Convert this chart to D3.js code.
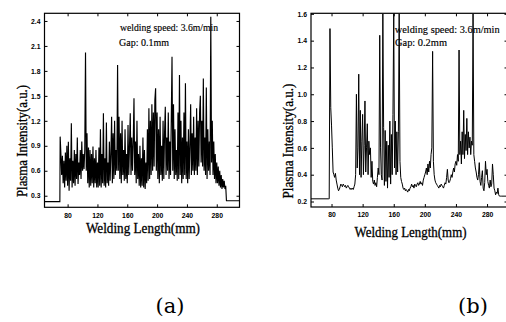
<!DOCTYPE html>
<html><head><meta charset="utf-8">
<script src="https://cdn.jsdelivr.net/npm/d3@7"></script>
<style>body{margin:0;background:#fff}svg{display:block}</style>
</head><body>
<svg id="c" width="506" height="322"></svg>
<script>
// ---------- data ----------
const lengthTicks = [80, 120, 160, 200, 240, 280];
const intensityTicksA = [0.3, 0.6, 0.9, 1.2, 1.5, 1.8, 2.1, 2.4];
const intensityTicksB = [0.2, 0.4, 0.6, 0.8, 1.0, 1.2, 1.4, 1.6];

// (a) gap 0.1 mm : samples every 1 mm from 70 mm
const startA = 70;
const intensityA = [
 1.01,0.80,0.55,0.78,0.45,0.72,0.40,0.82,0.48,0.90,
 0.42,0.95,0.36,0.75,0.48,1.17,0.40,0.72,0.45,0.85,
 0.42,0.80,0.50,1.00,0.44,0.70,0.55,0.85,0.50,0.95,
 0.60,0.80,0.62,0.85,2.02,0.60,1.05,0.45,0.88,0.40,
 0.85,0.42,0.80,0.45,0.89,0.40,0.75,0.45,0.85,0.40,
 0.70,0.40,0.88,0.42,1.10,0.40,0.80,0.45,1.29,0.42,
 0.75,0.40,1.18,0.45,0.70,0.42,0.95,0.48,0.80,1.25,
 0.45,1.05,0.50,1.20,0.55,0.85,0.60,1.87,0.60,1.25,
 0.50,1.05,0.45,1.20,0.55,0.85,0.48,1.10,0.50,0.80,
 0.45,1.15,0.55,0.90,1.29,0.55,1.00,0.60,0.95,1.47,
 0.55,0.95,0.45,1.20,0.50,0.80,0.42,0.90,0.40,0.75,
 0.42,1.00,0.40,0.85,0.38,0.70,0.45,1.10,0.48,1.35,
 0.50,1.20,0.55,1.40,0.60,1.30,0.65,1.45,1.59,0.60,
 1.30,0.50,1.10,0.45,1.25,0.55,0.90,0.48,1.20,0.50,
 1.05,1.37,0.55,1.00,0.60,1.30,0.50,0.95,0.55,1.20,
 1.97,0.60,1.40,0.50,1.10,0.55,0.85,0.48,1.30,0.50,
 1.75,0.55,1.20,0.45,1.00,0.50,1.30,0.55,1.65,0.50,
 0.95,0.45,1.10,0.50,0.90,1.40,0.55,1.05,0.60,1.25,
 0.55,1.00,0.60,1.35,0.55,1.20,0.65,1.30,1.50,0.70,
 1.20,0.65,1.71,0.60,1.00,0.55,1.60,0.50,1.10,0.60,
 0.95,0.55,2.45,0.70,1.20,0.55,0.95,0.50,0.80,0.45,
 0.70,0.45,0.65,0.42,0.60,0.40,0.55,0.38,0.50,0.40,
 0.48,0.38,0.42,0.24
];
const leadA = [[49, 0.23], [69.6, 0.23]];
const tailA = [[293.5, 0.24], [311, 0.24]];

// (b) gap 0.2 mm : samples every 1 mm from 76 mm
const startB = 76;
const intensityB = [
 0.22,0.22,1.49,0.90,
 0.77,0.60,0.42,0.40,0.38,0.41,0.36,0.33,0.30,0.28,
 0.29,0.31,0.33,0.32,0.31,0.33,0.32,0.31,0.32,0.30,
 0.31,0.32,0.31,0.30,0.29,0.30,0.29,0.30,0.29,0.31,
 0.33,0.40,1.00,0.45,0.60,1.15,0.40,0.88,0.38,0.65,
 0.85,0.40,0.62,0.95,0.42,0.60,0.78,0.40,0.65,0.55,
 0.60,0.38,0.50,0.35,0.33,0.36,0.32,0.34,0.31,0.38,
 0.45,0.40,1.44,0.60,0.40,0.36,1.60,0.75,0.32,0.73,
 0.35,0.65,0.30,0.62,0.38,0.80,0.33,0.70,0.40,0.85,
 1.60,0.45,0.80,0.40,0.72,0.42,0.72,1.60,0.50,0.38,
 0.35,0.33,0.30,0.29,0.30,0.28,0.29,0.28,0.27,0.29,
 0.28,0.30,0.31,0.33,0.31,0.32,0.30,0.33,0.32,0.31,
 0.33,0.34,0.32,0.33,0.35,0.33,0.34,0.32,0.36,0.38,
 0.40,0.42,0.45,0.40,0.48,0.42,0.50,0.45,0.55,0.60,
 1.32,0.50,0.40,0.36,0.34,0.33,0.32,0.31,0.30,0.32,
 0.31,0.33,0.32,0.31,0.30,0.32,0.34,0.33,0.38,0.44,
 0.36,0.34,0.35,0.37,0.40,0.38,0.42,0.45,0.42,0.48,
 0.50,0.47,0.55,0.50,1.33,0.55,0.65,0.48,0.72,0.55,
 0.88,0.52,0.70,0.58,0.82,0.55,0.72,0.60,0.68,0.55,
 0.65,0.62,1.60,0.55,0.50,0.45,0.42,0.38,0.36,0.40,
 0.49,0.35,0.32,0.38,0.43,0.30,0.28,0.34,0.50,0.40,
 0.44,0.35,0.32,0.30,0.36,0.31,0.33,0.48,0.40,0.30,
 0.28,0.25,0.27,0.26,0.30,0.25,0.24,0.24,0.24,0.24
];
const leadB = [[53, 0.22]];
const tailB = [[307, 0.24]];

const annotA = ["welding speed: 3.6m/min", "Gap: 0.1mm"];
const annotB = ["welding speed: 3.6m/min", "Gap: 0.2mm"];
const xTitle = "Welding Length(mm)";
const yTitle = "Plasma Intensity(a.u.)";

// ---------- drawing ----------
const svg = d3.select("#c");
const serif = "'Liberation Serif','Times New Roman',serif";
const sans = "'Liberation Sans',Arial,sans-serif";

function toPoints(start, vals, lead, tail) {
  return lead.concat(vals.map((v, i) => [start + i, v]), tail);
}

function panel(o) {
  const x = d3.scaleLinear().domain(o.xDom).range([o.left, o.right]);
  const y = d3.scaleLinear().domain(o.yDom).range([o.bottom, o.top]);
  const g = svg.append("g");
  const cid = "clip" + o.id;
  svg.append("clipPath").attr("id", cid).append("rect")
    .attr("x", o.left).attr("y", o.top).attr("width", o.right - o.left).attr("height", o.bottom - o.top);

  g.append("path").datum(o.points)
    .attr("clip-path", `url(#${cid})`)
    .attr("fill", "none").attr("stroke", "#000").attr("stroke-width", o.lw)
    .attr("stroke-linejoin", "miter")
    .attr("d", d3.line().x(d => x(d[0])).y(d => y(d[1])));

  const fmt = d3.format(".1f");
  const styleAxis = sel => {
    sel.select(".domain").remove();
    sel.selectAll("line").attr("stroke", "#000").attr("stroke-width", 1);
    sel.selectAll("text").attr("font-family", sans).attr("font-size", 6.8)
      .attr("font-weight", "bold").attr("fill", "#000");
  };
  g.append("g").attr("transform", `translate(0,${o.bottom})`)
    .call(d3.axisBottom(x).tickValues(lengthTicks).tickSize(-3).tickPadding(5.5).tickFormat(d3.format("d")))
    .call(styleAxis);
  g.append("g").attr("transform", `translate(0,${o.top})`)
    .call(d3.axisTop(x).tickValues(lengthTicks).tickSize(-3).tickFormat(""))
    .call(styleAxis);
  g.append("g").attr("transform", `translate(${o.left},0)`)
    .call(d3.axisLeft(y).tickValues(o.yTicks).tickSize(-3).tickPadding(4).tickFormat(fmt))
    .call(styleAxis);
  g.append("g").attr("transform", `translate(${o.right},0)`)
    .call(d3.axisRight(y).tickValues(o.yTicks).tickSize(-3).tickFormat(""))
    .call(styleAxis);

  g.append("rect").attr("x", o.left).attr("y", o.top)
    .attr("width", o.right - o.left).attr("height", o.bottom - o.top)
    .attr("fill", "none").attr("stroke", "#000").attr("stroke-width", 1.2);

  g.append("text").text(xTitle)
    .attr("x", o.xt[0]).attr("y", o.xt[1]).attr("text-anchor", "middle")
    .attr("font-family", serif).attr("font-size", 14)
    .attr("stroke", "#000").attr("stroke-width", 0.3)
    .attr("textLength", o.xt[2]).attr("lengthAdjust", "spacingAndGlyphs");
  g.append("text").text(yTitle)
    .attr("transform", `translate(${o.yt[0]},${o.yt[1]}) rotate(-90)`)
    .attr("text-anchor", "middle")
    .attr("font-family", serif).attr("font-size", 14)
    .attr("stroke", "#000").attr("stroke-width", 0.3)
    .attr("textLength", o.yt[2]).attr("lengthAdjust", "spacingAndGlyphs");

  o.annot.forEach((t, i) => {
    g.append("text").text(t)
      .attr("x", o.an[i][0]).attr("y", o.an[i][1])
      .attr("font-family", serif).attr("font-size", 10)
      .attr("stroke", "#000").attr("stroke-width", 0.15)
      .attr("textLength", o.an[i][2]).attr("lengthAdjust", "spacingAndGlyphs");
  });

  svg.append("text").text(o.tag)
    .attr("x", o.tagPos[0]).attr("y", o.tagPos[1]).attr("text-anchor", "middle")
    .attr("font-family", "'DejaVu Serif',serif").attr("font-size", 21);
}

panel({
  id: "a", left: 44.5, right: 239.5, top: 13.3, bottom: 207.3,
  xDom: [49, 310.5], yDom: [0.161, 2.492], yTicks: intensityTicksA,
  points: toPoints(startA, intensityA, leadA, tailA), lw: 1.15,
  annot: annotA, an: [[120, 31.3, 98], [119, 46, 50]],
  xt: [143, 233, 114], yt: [26.5, 141, 112],
  tag: "(a)", tagPos: [170, 313]
});
panel({
  id: "b", left: 311, right: 507.5, top: 13.3, bottom: 207,
  xDom: [53.6, 306.3], yDom: [0.159, 1.604], yTicks: intensityTicksB,
  points: toPoints(startB, intensityB, leadB, tailB), lw: 1.0,
  annot: annotB, an: [[394.7, 32.7, 105], [395, 46, 52]],
  xt: [410.5, 236.5, 112], yt: [292.5, 141, 115],
  tag: "(b)", tagPos: [473, 313]
});
</script>
</body></html>
